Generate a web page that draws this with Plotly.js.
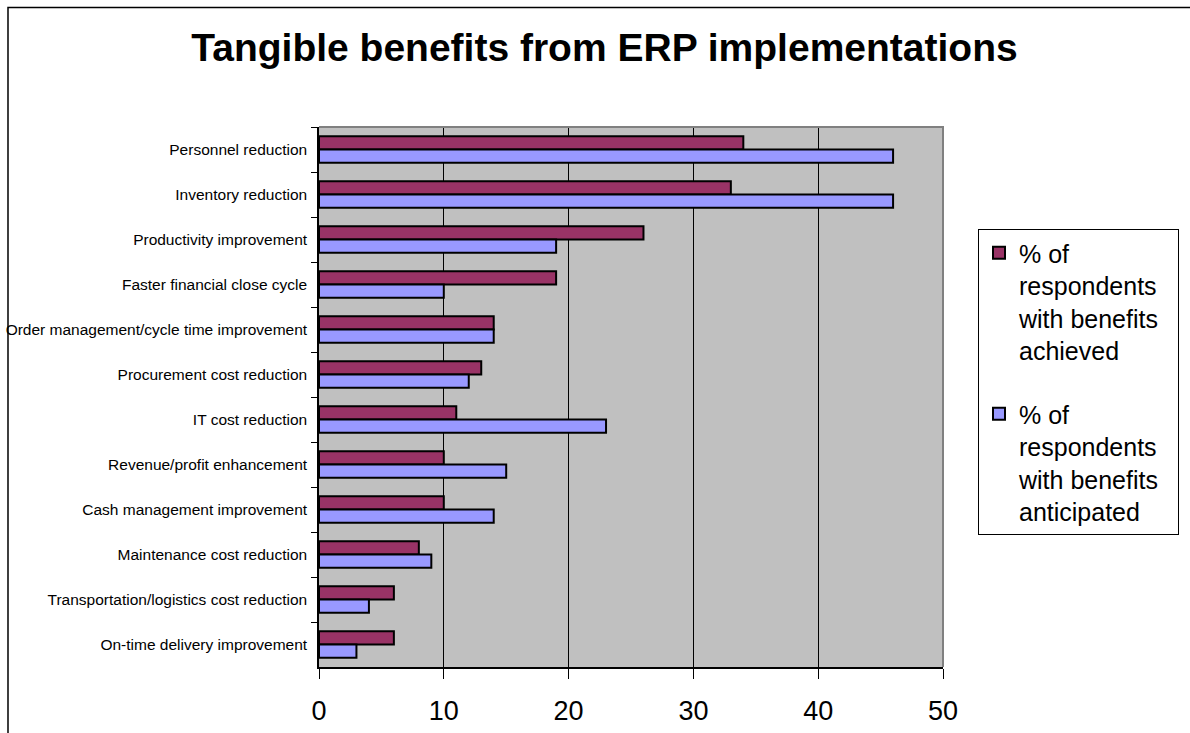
<!DOCTYPE html>
<html>
<head>
<meta charset="utf-8">
<script src="https://cdn.plot.ly/plotly-3.0.1.min.js"></script>
<style>
  html, body { margin: 0; padding: 0; background: #ffffff; }
  #chart { width: 1190px; height: 733px; }
</style>
</head>
<body>
<div id="chart"></div>
<script>
// Benefit categories, listed top to bottom
const categories = [
  "Personnel reduction",
  "Inventory reduction",
  "Productivity improvement",
  "Faster financial close cycle",
  "Order management/cycle time improvement",
  "Procurement cost reduction",
  "IT cost reduction",
  "Revenue/profit enhancement",
  "Cash management improvement",
  "Maintenance cost reduction",
  "Transportation/logistics cost reduction",
  "On-time delivery improvement"
];

// % of respondents with benefits achieved
const achieved = [34, 33, 26, 19, 14, 13, 11, 10, 10, 8, 6, 6];

// % of respondents with benefits anticipated
const anticipated = [46, 46, 19, 10, 14, 12, 23, 15, 14, 9, 4, 3];

// legend entries, wrapped onto four lines (trailing no-break spaces give the box some right padding)
const seriesNames = [
  "% of<br>respondents<br>with benefits\u00a0\u00a0<br>achieved",
  "% of<br>respondents<br>with benefits\u00a0\u00a0<br>anticipated"
];

const xTicks = [0, 10, 20, 30, 40, 50];

const FONT = "Arial, 'Liberation Sans', sans-serif";

const traces = [
  {
    type: "bar",
    orientation: "h",
    name: seriesNames[0],
    legendgroup: "a",
    y: categories,
    x: achieved,
    marker: { color: "#993366", line: { color: "#000000", width: 2 } },
    hoverinfo: "x+y"
  },
  {
    type: "bar",
    orientation: "h",
    name: seriesNames[1],
    legendgroup: "b",
    y: categories,
    x: anticipated,
    marker: { color: "#9999FF", line: { color: "#000000", width: 2 } },
    hoverinfo: "x+y"
  }
];

// plot area geometry (pixels) used to place the outer frame
const L = 319, R = 246, T = 127, B = 66, W = 1190, H = 733;
const pw = W - L - R, ph = H - T - B;
const px = v => (v - L) / pw;
const py = v => 1 - (v - T) / ph;

const layout = {
  width: W,
  height: H,
  paper_bgcolor: "#ffffff",
  plot_bgcolor: "#C0C0C0",
  margin: { l: L, r: R, t: T, b: B, pad: 0 },
  font: { family: FONT, color: "#000000" },
  title: {
    text: "<b>Tangible benefits from ERP implementations</b>",
    font: { family: FONT, size: 39, color: "#000000" },
    x: (604.5) / W,
    xanchor: "center",
    y: 1 - 47 / H,
    yanchor: "middle"
  },
  barmode: "group",
  bargap: 0.41,
  bargroupgap: 0,
  showlegend: true,
  legend: {
    x: px(978),
    y: py(229),
    xanchor: "left",
    yanchor: "top",
    bgcolor: "#ffffff",
    bordercolor: "#000000",
    borderwidth: 1,
    font: { family: FONT, size: 25, color: "#000000" },
    traceorder: "grouped",
    tracegroupgap: 28,
    valign: "top",
    itemclick: false,
    itemdoubleclick: false
  },
  xaxis: {
    range: [0, 50],
    tickvals: xTicks,
    ticktext: xTicks.map(String),
    showgrid: true,
    gridcolor: "#000000",
    gridwidth: 1,
    zeroline: false,
    showline: true,
    linecolor: "#000000",
    linewidth: 1.5,
    ticks: "outside",
    ticklen: 10,
    tickwidth: 1,
    tickcolor: "#000000",
    ticklabelstandoff: 9,
    tickfont: { family: FONT, size: 27, color: "#000000" },
    fixedrange: true
  },
  yaxis: {
    type: "category",
    autorange: "reversed",
    showgrid: false,
    zeroline: false,
    showline: true,
    linecolor: "#000000",
    linewidth: 1.5,
    ticks: "outside",
    tickson: "boundaries",
    ticklen: 6,
    tickwidth: 1,
    tickcolor: "#000000",
    ticklabelstandoff: 7,
    tickfont: { family: FONT, size: 15.5, color: "#000000" },
    fixedrange: true
  },
  shapes: [
    // grey frame on the top and right of the plot area
    {
      type: "path",
      xref: "paper",
      yref: "paper",
      path: "M 0 1 L 1 1 L 1 0",
      line: { color: "#808080", width: 2 },
      layer: "above"
    },
    // outer chart border (left and top edges)
    {
      type: "path",
      xref: "paper",
      yref: "paper",
      path: `M ${px(7.5)} ${py(760)} L ${px(7.5)} ${py(7.5)} L ${px(1200)} ${py(7.5)}`,
      line: { color: "#000000", width: 1.5 },
      layer: "above"
    }
  ]
};

Plotly.newPlot("chart", traces, layout, { displayModeBar: false });
</script>
</body>
</html>
